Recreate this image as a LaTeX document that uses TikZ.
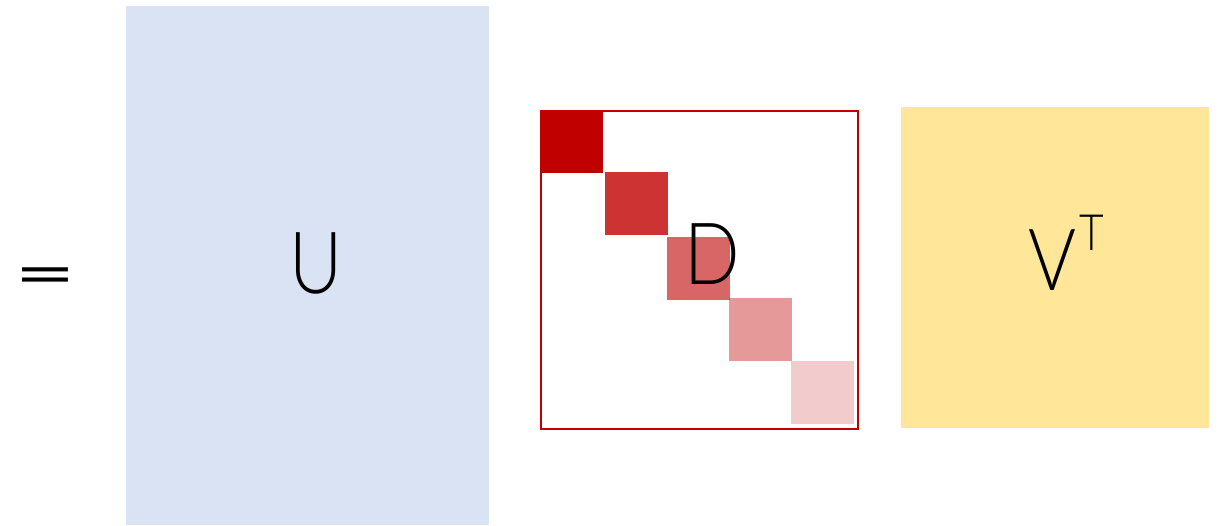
\documentclass[tikz,border=0pt]{standalone}
\usepackage{fontspec}
\setmainfont{Lato}[UprightFont={* Light}]
\newfontfamily\eqfont{Lato}
\definecolor{ublue}{HTML}{DAE3F3}
\definecolor{dred}{HTML}{C00000}
\definecolor{vyel}{HTML}{FFE699}
\begin{document}
\begin{tikzpicture}[x=1pt,y=1pt,
  big/.style={font=\fontsize{86}{90}\selectfont, inner sep=0pt, anchor=base},
  cell/.style={fill=dred, fill opacity=#1, draw=none, minimum size=63pt, inner sep=0pt, anchor=north west}]
\useasboundingbox (0,0) rectangle (1225,525);
% U
\node[fill=ublue, minimum width=363pt, minimum height=519pt, inner sep=0pt, anchor=south west] (U) at (126,0) {};
\node[big, xscale=0.85] (Ul) at (316,231) {U};
% D
\node[draw=dred, line width=2pt, minimum width=317pt, minimum height=318pt, inner sep=0pt, anchor=north west] (Dbox) at (540,415) {};
\node[cell=1] (d1) at (540,415) {};
\node[cell=0.8] (d2) at (605,353) {};
\node[cell=0.6] (d3) at (667,288) {};
\node[cell=0.4] (d4) at (729,227) {};
\node[cell=0.2] (d5) at (791,164) {};
\node[big, xscale=0.85] (Dl) at (712,240) {D};
% V^T
\node[fill=vyel, minimum width=308pt, minimum height=321pt, inner sep=0pt, anchor=north west] (V) at (901,418) {};
\node[big, xscale=0.85] (Vl) at (1052,234) {V};
\node[font=\fontsize{50}{52}\selectfont, xscale=0.85, inner sep=0pt, anchor=base] (T) at (1092,274) {T};
% equals
\node[font=\eqfont\fontsize{61}{64}\selectfont, xscale=1.75, inner sep=0pt, anchor=base] (eq) at (45,229.5) {=};
\end{tikzpicture}
\end{document}
